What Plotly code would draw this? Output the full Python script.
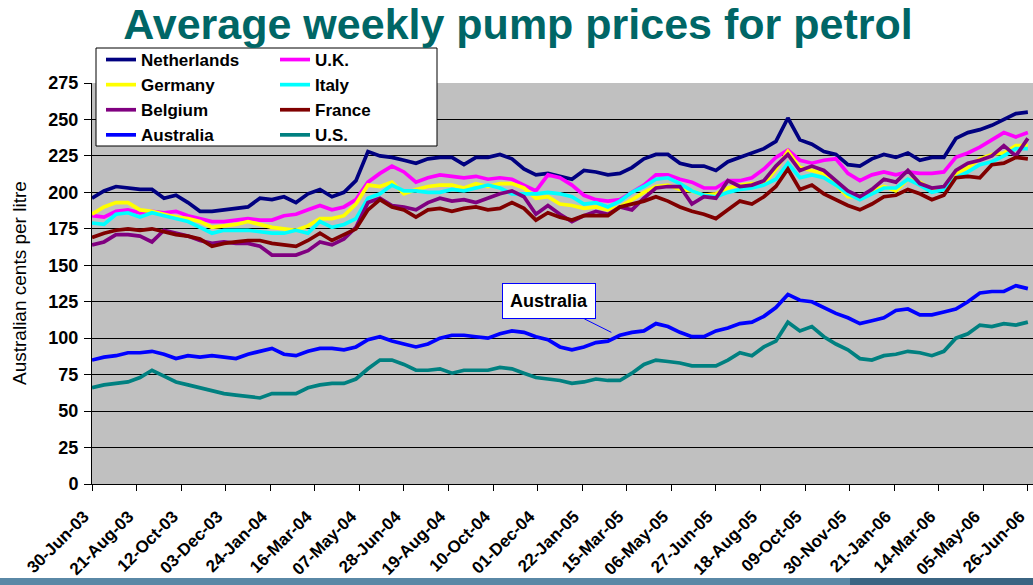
import pandas as pd
import plotly.graph_objects as go

# ---- data (bi-weekly readings, Australian cents per litre) ----
start_date = "2003-06-30"
n_points = 79
dates = pd.date_range(start_date, periods=n_points, freq="14D").strftime("%Y-%m-%d").tolist()

netherlands = [196,201,204,203,202,202,196,198,193,187, 187,188,189,190,196,195,197,193,199,202,
               197,200,208,228,225,224,222,220,223,224, 224,219,224,224,226,223,216,212,213,211,
               209,215,214,212,213,217,223,226,226,220, 218,218,215,221,224,227,230,235,251,236,
               233,228,226,219,218,223,226,224,227,222, 224,224,237,241,243,246,250,254,255]
uk = [184,183,187,188,186,187,186,187,184,182, 180,180,181,182,181,181,184,185,188,191,
      188,190,195,207,213,218,214,207,210,212, 211,210,211,209,210,209,205,201,212,210,
      205,198,195,194,195,200,205,212,212,209, 207,203,203,208,208,210,216,224,229,222,
      220,222,223,213,208,212,214,212,214,213, 213,214,224,227,231,236,241,238,241]
germany = [185,190,193,193,188,187,185,183,182,180, 176,177,178,180,178,176,175,174,177,182,
           182,184,192,205,204,207,199,202,204,205, 205,203,206,204,206,206,203,196,197,192,
           191,189,190,188,190,195,200,204,205,202, 201,198,199,203,205,206,206,216,228,217,
           215,213,205,197,197,201,204,201,209,207, 202,202,213,217,223,226,227,232,232]
italy = [179,178,185,186,183,186,184,182,180,176, 172,174,174,174,173,172,172,174,172,180,
         176,178,182,196,199,205,201,201,200,200, 202,201,203,205,203,199,199,199,200,199,
         197,192,193,190,194,200,204,209,210,206, 201,198,197,200,202,203,205,209,220,210,
         212,210,205,199,195,199,203,203,209,205, 200,202,210,214,219,221,225,230,230]
belgium = [164,166,171,171,170,166,174,172,170,167, 165,166,165,165,163,157,157,157,160,166,
           164,168,176,193,196,191,190,188,193,196, 194,195,193,196,199,201,197,185,191,185,
           180,184,187,185,190,188,196,203,204,204, 192,197,196,208,204,205,208,218,226,215,
           218,215,208,201,197,202,209,207,215,206, 203,204,215,220,222,225,232,225,237]
france = [169,172,174,175,174,175,173,171,170,168, 163,165,166,167,167,165,164,163,167,172,
          167,171,175,188,195,190,188,183,188,189, 187,189,190,188,189,193,189,181,186,183,
          181,184,184,184,190,192,194,197,194,190, 187,185,182,188,194,192,197,204,216,202,
          205,199,195,191,188,192,197,198,202,199, 195,198,210,211,210,219,220,224,223]
australia = [85,87,88,90,90,91,89,86,88,87, 88,87,86,89,91,93,89,88,91,93,
             93,92,94,99,101,98,96,94,96,100, 102,102,101,100,103,105,104,101,99,94,
             92,94,97,98,102,104,105,110,108,104, 101,101,105,107,110,111,115,121,130,126,
             125,121,117,114,110,112,114,119,120,116, 116,118,120,125,131,132,132,136,134]
us = [66,68,69,70,73,78,74,70,68,66, 64,62,61,60,59,62,62,62,66,68,
      69,69,72,79,85,85,82,78,78,79, 76,78,78,78,80,79,76,73,72,71,
      69,70,72,71,71,76,82,85,84,83, 81,81,81,85,90,88,94,98,111,105,
      108,101,96,92,86,85,88,89,91,90, 88,91,100,103,109,108,110,109,111]

tick_dates = ["2003-06-30","2003-08-21","2003-10-12","2003-12-03","2004-01-24","2004-03-16",
              "2004-05-07","2004-06-28","2004-08-19","2004-10-10","2004-12-01","2005-01-22",
              "2005-03-15","2005-05-06","2005-06-27","2005-08-18","2005-10-09","2005-11-30",
              "2006-01-21","2006-03-14","2006-05-05","2006-06-26"]
tick_labels = ["30-Jun-03","21-Aug-03","12-Oct-03","03-Dec-03","24-Jan-04","16-Mar-04",
               "07-May-04","28-Jun-04","19-Aug-04","10-Oct-04","01-Dec-04","22-Jan-05",
               "15-Mar-05","06-May-05","27-Jun-05","18-Aug-05","09-Oct-05","30-Nov-05",
               "21-Jan-06","14-Mar-06","05-May-06","26-Jun-06"]
y_ticks = list(range(0, 276, 25))

series = [
    ("Netherlands", netherlands, "#000080", "legend"),
    ("U.K.", uk, "#FF00FF", "legend2"),
    ("Germany", germany, "#FFFF00", "legend"),
    ("Italy", italy, "#00FFFF", "legend2"),
    ("Belgium", belgium, "#800080", "legend"),
    ("France", france, "#800000", "legend2"),
    ("Australia", australia, "#0000FF", "legend"),
    ("U.S.", us, "#008080", "legend2"),
]

FONT = "Liberation Sans, Arial, sans-serif"

fig = go.Figure()
for name, vals, color, lg in series:
    fig.add_trace(go.Scatter(x=dates, y=vals, mode="lines", name=name,
                             line=dict(color=color, width=3.7), legend=lg))

W, H = 1033, 585
L, R, T, B = 92, 0, 83, 101
pw, ph = W - L - R, H - T - B

def px_x(p):
    return (p - L) / pw

def px_y(p):
    return (H - B - p) / ph

legend_font = dict(family=FONT, size=17, color="black", weight="bold")

fig.update_layout(
    width=W, height=H,
    margin=dict(l=L, r=R, t=T, b=B, autoexpand=False),
    paper_bgcolor="white",
    plot_bgcolor="#C0C0C0",
    title=dict(text="Average weekly pump prices for petrol",
               font=dict(family=FONT, size=43, color="#006666", weight="bold"),
               x=518 / W, xref="container", xanchor="center",
               y=1 - 9 / H, yref="container", yanchor="top"),
    xaxis=dict(type="date", range=["2003-06-30", "2006-07-02"], automargin=False,
               tickvals=tick_dates, ticktext=tick_labels, tickangle=-45,
               ticklabeloverflow="allow", ticklabelshift=-8, ticklabelstandoff=9,
               tickfont=dict(family=FONT, size=17, color="black", weight="bold"),
               ticks="outside", ticklen=6, tickcolor="black",
               showline=True, linecolor="black", linewidth=1,
               showgrid=False, zeroline=False),
    yaxis=dict(range=[0, 275], tickvals=y_ticks, automargin=False,
               tickfont=dict(family=FONT, size=18, color="black", weight="bold"),
               ticks="outside", ticklen=7, tickcolor="black", ticklabelstandoff=2,
               showline=True, linecolor="black", linewidth=1,
               showgrid=True, gridcolor="black", gridwidth=1, zeroline=False),
    legend=dict(x=101 / W, y=1 - 42 / H, xref="container", yref="container",
                xanchor="left", yanchor="top",
                bgcolor="rgba(0,0,0,0)", borderwidth=0, font=legend_font,
                itemwidth=30, tracegroupgap=0),
    legend2=dict(x=275 / W, y=1 - 42 / H, xref="container", yref="container",
                 xanchor="left", yanchor="top",
                 bgcolor="rgba(0,0,0,0)", borderwidth=0, font=legend_font,
                 itemwidth=30, tracegroupgap=0),
    showlegend=True,
    shapes=[
        dict(type="rect", xref="paper", yref="paper",
             x0=px_x(96), x1=px_x(437), y0=px_y(146), y1=px_y(48),
             fillcolor="white", line=dict(color="black", width=1), layer="above"),
        dict(type="rect", xref="paper", yref="paper",
             x0=px_x(0), x1=px_x(850), y0=px_y(585), y1=px_y(578),
             fillcolor="#5A88A6", line=dict(width=0), layer="above"),
        dict(type="rect", xref="paper", yref="paper",
             x0=px_x(850), x1=px_x(1033), y0=px_y(585), y1=px_y(578),
             fillcolor="#3B6482", line=dict(width=0), layer="above"),
    ],
    annotations=[
        dict(text="Australian cents per litre", xref="paper", yref="paper",
             x=px_x(19), y=px_y(283), xanchor="center", yanchor="middle",
             textangle=-90, showarrow=False,
             font=dict(family=FONT, size=19, color="black")),
        dict(text="<b>Australia</b>", xref="x", yref="y",
             x="2005-02-25", y=104, ax=-62, ay=-31,
             showarrow=True, arrowhead=0, arrowwidth=1, arrowcolor="#0000FF",
             standoff=0, bgcolor="white", bordercolor="#0000FF", borderwidth=1,
             borderpad=7, font=dict(family=FONT, size=18, color="black")),
    ],
)

fig.write_html("out.html",
               config={"displayModeBar": False},
               post_script="document.body.style.margin='0px';"
                           "document.body.style.overflow='hidden';")
